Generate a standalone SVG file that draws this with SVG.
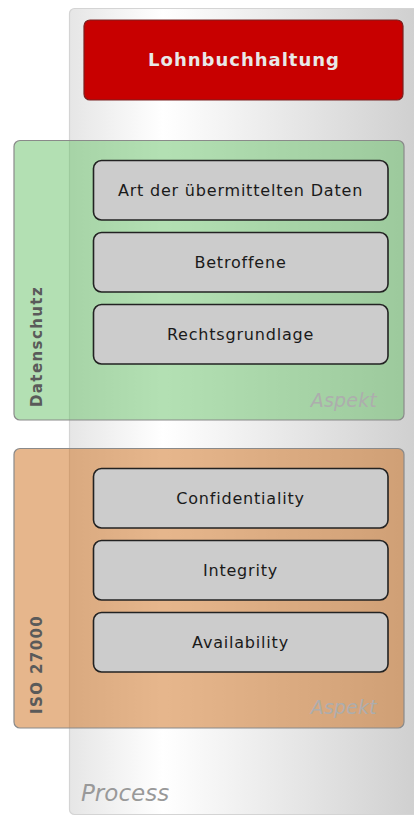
<svg xmlns="http://www.w3.org/2000/svg" width="414" height="816" viewBox="0 0 414 816">
<defs>
<linearGradient id="laneGrad" x1="70" y1="0" x2="414" y2="0" gradientUnits="userSpaceOnUse">
<stop offset="0" stop-color="#e6e6e6"/>
<stop offset="0.27" stop-color="#ffffff"/>
<stop offset="1" stop-color="#d0d0d0"/>
</linearGradient>
<style>
.box{fill:#cccccc;stroke:#222222;stroke-width:1.6}
.lbl{font-family:"DejaVu Sans",sans-serif;font-size:16px;letter-spacing:0.8px;fill:#1a1a1a;text-anchor:middle}
.grp{stroke:#8a8a8a;stroke-width:1.2}
.glbl{font-family:"DejaVu Sans",sans-serif;font-size:15px;font-weight:bold;letter-spacing:1.4px;fill:#5a5a5a}
.asp{font-family:"DejaVu Sans",sans-serif;font-size:19px;font-style:italic;fill:#adadad;text-anchor:end;letter-spacing:0.2px}
</style>
</defs>
<rect width="414" height="816" fill="#ffffff"/>
<g id="process">
<rect x="69.5" y="8.5" width="360" height="806" rx="5" fill="url(#laneGrad)" stroke="#d4d4d4" stroke-width="1.2"/>
<text x="81" y="801" font-family="DejaVu Sans, sans-serif" font-size="23" font-style="italic" fill="#999999">Process</text>
</g>
<g id="lohnbuchhaltung">
<rect x="84" y="20" width="319" height="80" rx="6" fill="#c80000" stroke="#7a2020" stroke-width="1.2"/>
<text x="244" y="66" font-family="DejaVu Sans, sans-serif" font-size="18" font-weight="bold" letter-spacing="1" fill="#e8e8e8" text-anchor="middle">Lohnbuchhaltung</text>
</g>
<g id="datenschutz">
<rect class="grp" x="14" y="140.5" width="390" height="279.5" rx="6" fill="rgb(103,193,103)" fill-opacity="0.5"/>
<text class="glbl" transform="translate(42,407) rotate(-90)">Datenschutz</text>
<text class="asp" x="377" y="407">Aspekt</text>
</g>
<g id="art">
<rect class="box" x="93.5" y="160.5" width="294.5" height="59.5" rx="8"/>
<text class="lbl" x="240.5" y="196">Art der übermittelten Daten</text>
</g>
<g id="betroffene">
<rect class="box" x="93.5" y="232.5" width="294.5" height="59.5" rx="8"/>
<text class="lbl" x="240.5" y="268">Betroffene</text>
</g>
<g id="rechtsgrundlage">
<rect class="box" x="93.5" y="304.5" width="294.5" height="59.5" rx="8"/>
<text class="lbl" x="240.5" y="340">Rechtsgrundlage</text>
</g>
<g id="iso27000">
<rect class="grp" x="14" y="448.5" width="390" height="279.5" rx="6" fill="rgb(205,110,25)" fill-opacity="0.5"/>
<text class="glbl" transform="translate(42,714) rotate(-90)">ISO 27000</text>
<text class="asp" x="377" y="714">Aspekt</text>
</g>
<g id="confidentiality">
<rect class="box" x="93.5" y="468.5" width="294.5" height="59.5" rx="8"/>
<text class="lbl" x="240.5" y="504">Confidentiality</text>
</g>
<g id="integrity">
<rect class="box" x="93.5" y="540.5" width="294.5" height="59.5" rx="8"/>
<text class="lbl" x="240.5" y="576">Integrity</text>
</g>
<g id="availability">
<rect class="box" x="93.5" y="612.5" width="294.5" height="59.5" rx="8"/>
<text class="lbl" x="240.5" y="648">Availability</text>
</g>
<g id="connectors"/>
</svg>
